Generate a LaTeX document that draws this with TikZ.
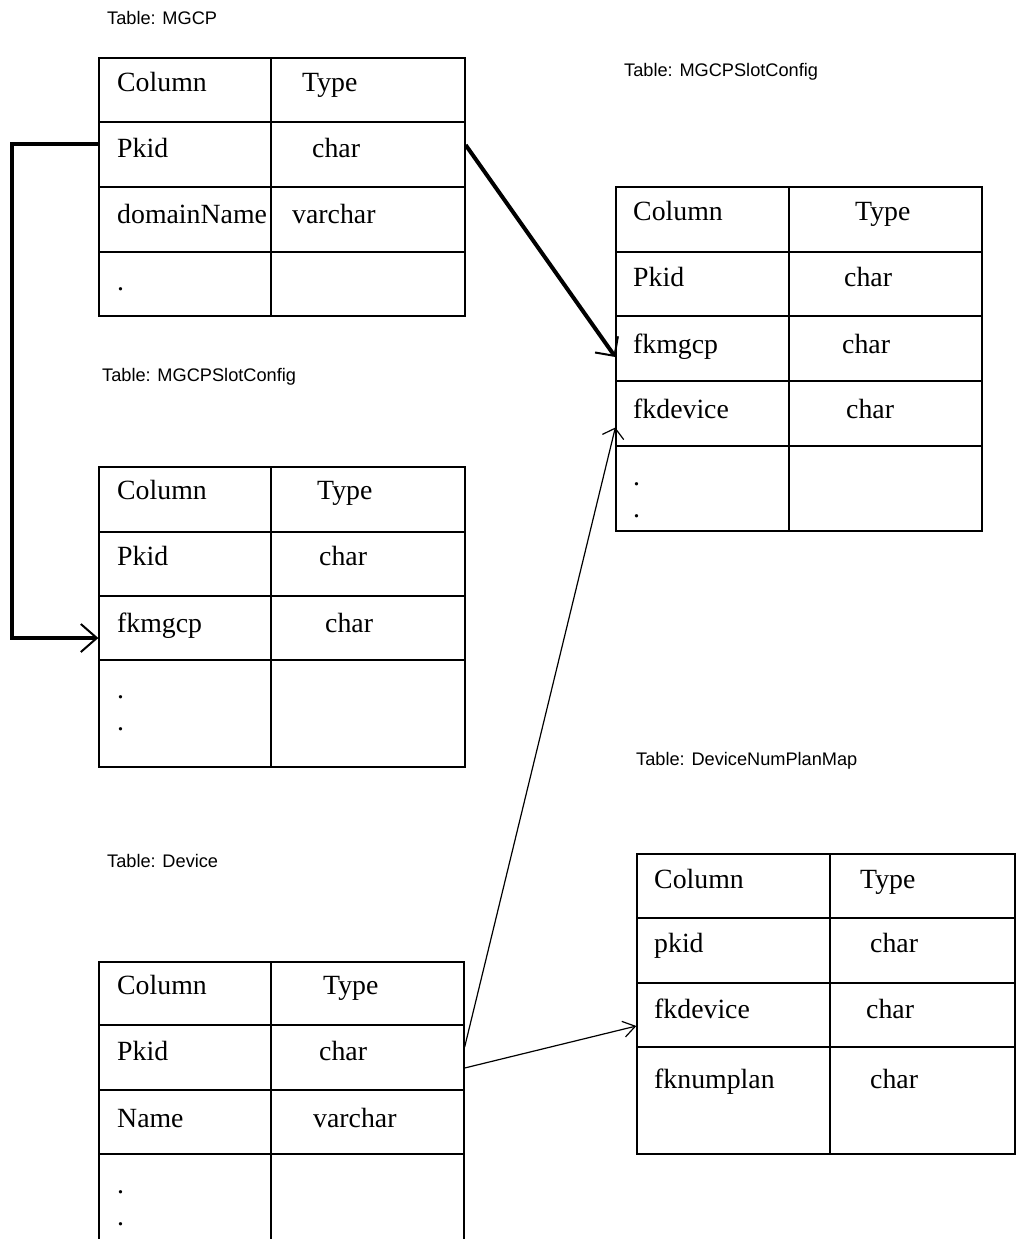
\documentclass[tikz,border=0pt]{standalone}
\usepackage{fontspec}
\setmainfont{Liberation Serif}
\newfontfamily\lblfont{Liberation Sans}
\usetikzlibrary{arrows.meta,fit}
\newcommand{\tcell}[5]{\node[cell, fit={(#2,#3) (#4,#5)}] (#1) {};}
\begin{document}
\begin{tikzpicture}[x=1pt,y=-1pt,
  cell/.style={draw, line width=1.3pt, inner sep=0pt},
  txt/.style={anchor=base west, inner sep=0pt, font=\fontsize{27.8}{30}\selectfont},
  lbl/.style={anchor=base west, inner sep=0pt, font=\lblfont\fontsize{18.2}{20}\selectfont},
  thicklink/.style={line width=4pt, line join=miter},
  thinlink/.style={line width=1.2pt}]
\fill[white] (0,0) rectangle (1016,1239);
\useasboundingbox (0,0) rectangle (1016,1239);
\clip (0,0) rectangle (1016,1239);

% ---------- Table: MGCP ----------
\node[lbl] (lblmgcp) at (107,25) {Table: MGCP};
\tcell{mgcp-h-c}{99}{58}{271}{122}
\tcell{mgcp-h-t}{271}{58}{465}{122}
\tcell{mgcp-pk-c}{99}{122}{271}{187}
\tcell{mgcp-pk-t}{271}{122}{465}{187}
\tcell{mgcp-dn-c}{99}{187}{271}{252}
\tcell{mgcp-dn-t}{271}{187}{465}{252}
\tcell{mgcp-e-c}{99}{252}{271}{316}
\tcell{mgcp-e-t}{271}{252}{465}{316}
\node[txt] (t1) at (117,91) {Column};
\node[txt] (t2) at (302,91) {Type};
\node[txt] (t3) at (117,157) {Pkid};
\node[txt] (t4) at (312,157) {char};
\node[txt] (t5) at (117,223) {domainName};
\node[txt] (t6) at (292,223) {varchar};
\node[txt] (t7) at (117,290) {.};

% ---------- Table: MGCPSlotConfig (left) ----------
\node[lbl] (lblmsl) at (102,381) {Table: MGCPSlotConfig};
\tcell{msl-h-c}{99}{467}{271}{532}
\tcell{msl-h-t}{271}{467}{465}{532}
\tcell{msl-pk-c}{99}{532}{271}{596}
\tcell{msl-pk-t}{271}{532}{465}{596}
\tcell{msl-fk-c}{99}{596}{271}{660}
\tcell{msl-fk-t}{271}{596}{465}{660}
\tcell{msl-e-c}{99}{660}{271}{767}
\tcell{msl-e-t}{271}{660}{465}{767}
\node[txt] (u1) at (117,499) {Column};
\node[txt] (u2) at (317,499) {Type};
\node[txt] (u3) at (117,565) {Pkid};
\node[txt] (u4) at (319,565) {char};
\node[txt] (u5) at (117,632) {fkmgcp};
\node[txt] (u6) at (325,632) {char};
\node[txt] (u7) at (117,698) {.};
\node[txt] (u8) at (117,730) {.};

% ---------- Table: MGCPSlotConfig (right) ----------
\node[lbl] (lblrms) at (624,77) {Table: MGCPSlotConfig};
\tcell{rms-h-c}{616}{187}{789}{252}
\tcell{rms-h-t}{789}{187}{982}{252}
\tcell{rms-pk-c}{616}{252}{789}{316}
\tcell{rms-pk-t}{789}{252}{982}{316}
\tcell{rms-fk-c}{616}{316}{789}{381}
\tcell{rms-fk-t}{789}{316}{982}{381}
\tcell{rms-fd-c}{616}{381}{789}{446}
\tcell{rms-fd-t}{789}{381}{982}{446}
\tcell{rms-e-c}{616}{446}{789}{531}
\tcell{rms-e-t}{789}{446}{982}{531}
\node[txt] (v1) at (633,220) {Column};
\node[txt] (v2) at (855,220) {Type};
\node[txt] (v3) at (633,286) {Pkid};
\node[txt] (v4) at (844,286) {char};
\node[txt] (v5) at (633,353) {fkmgcp};
\node[txt] (v6) at (842,353) {char};
\node[txt] (v7) at (633,418) {fkdevice};
\node[txt] (v8) at (846,418) {char};
\node[txt] (v9) at (633,485) {.};
\node[txt] (v10) at (633,517) {.};

% ---------- Table: Device ----------
\node[lbl] (lbldev) at (107,867) {Table: Device};
\tcell{dev-h-c}{99}{962}{271}{1025}
\tcell{dev-h-t}{271}{962}{464}{1025}
\tcell{dev-pk-c}{99}{1025}{271}{1090}
\tcell{dev-pk-t}{271}{1025}{464}{1090}
\tcell{dev-nm-c}{99}{1090}{271}{1154}
\tcell{dev-nm-t}{271}{1090}{464}{1154}
\tcell{dev-e-c}{99}{1154}{271}{1270}
\tcell{dev-e-t}{271}{1154}{464}{1270}
\node[txt] (w1) at (117,994) {Column};
\node[txt] (w2) at (323,994) {Type};
\node[txt] (w3) at (117,1060) {Pkid};
\node[txt] (w4) at (319,1060) {char};
\node[txt] (w5) at (117,1127) {Name};
\node[txt] (w6) at (313,1127) {varchar};
\node[txt] (w7) at (117,1193) {.};
\node[txt] (w8) at (117,1225) {.};

% ---------- Table: DeviceNumPlanMap ----------
\node[lbl] (lbldn) at (636,765) {Table: DeviceNumPlanMap};
\tcell{dn-h-c}{637}{854}{830}{918}
\tcell{dn-h-t}{830}{854}{1015}{918}
\tcell{dn-pk-c}{637}{918}{830}{983}
\tcell{dn-pk-t}{830}{918}{1015}{983}
\tcell{dn-fd-c}{637}{983}{830}{1047}
\tcell{dn-fd-t}{830}{983}{1015}{1047}
\tcell{dn-np-c}{637}{1047}{830}{1154}
\tcell{dn-np-t}{830}{1047}{1015}{1154}
\node[txt] (x1) at (654,888) {Column};
\node[txt] (x2) at (860,888) {Type};
\node[txt] (x3) at (654,952) {pkid};
\node[txt] (x4) at (870,952) {char};
\node[txt] (x5) at (654,1018) {fkdevice};
\node[txt] (x6) at (866,1018) {char};
\node[txt] (x7) at (654,1088) {fknumplan};
\node[txt] (x8) at (870,1088) {char};

% ---------- Connectors ----------
\coordinate (bend) at (12,0);
\draw[thicklink, -{Straight Barb[length=16pt,width=28pt,line width=2pt]}]
  ([yshift=10.5pt]mgcp-pk-c.west) -- ([yshift=10.5pt]mgcp-pk-c.west -| bend)
  |- ([yshift=-10pt]msl-fk-c.west);
\draw[thicklink, -{Straight Barb[length=14pt,width=28pt,line width=2pt]}]
  ([yshift=9.5pt]mgcp-pk-t.east) -- ([yshift=-8.5pt]rms-fk-c.west);
\draw[thinlink, -{Straight Barb[length=9pt,width=22pt,line width=1.2pt]}]
  ([yshift=10.5pt]dev-pk-t.east) -- ([yshift=-14pt]rms-fd-c.west);
\draw[thinlink, -{Straight Barb[length=12pt,width=16pt,line width=1.2pt]}]
  ([yshift=-10.5pt]dev-pk-t.east) -- ([yshift=-11pt]dn-fd-c.west);
\end{tikzpicture}
\end{document}
